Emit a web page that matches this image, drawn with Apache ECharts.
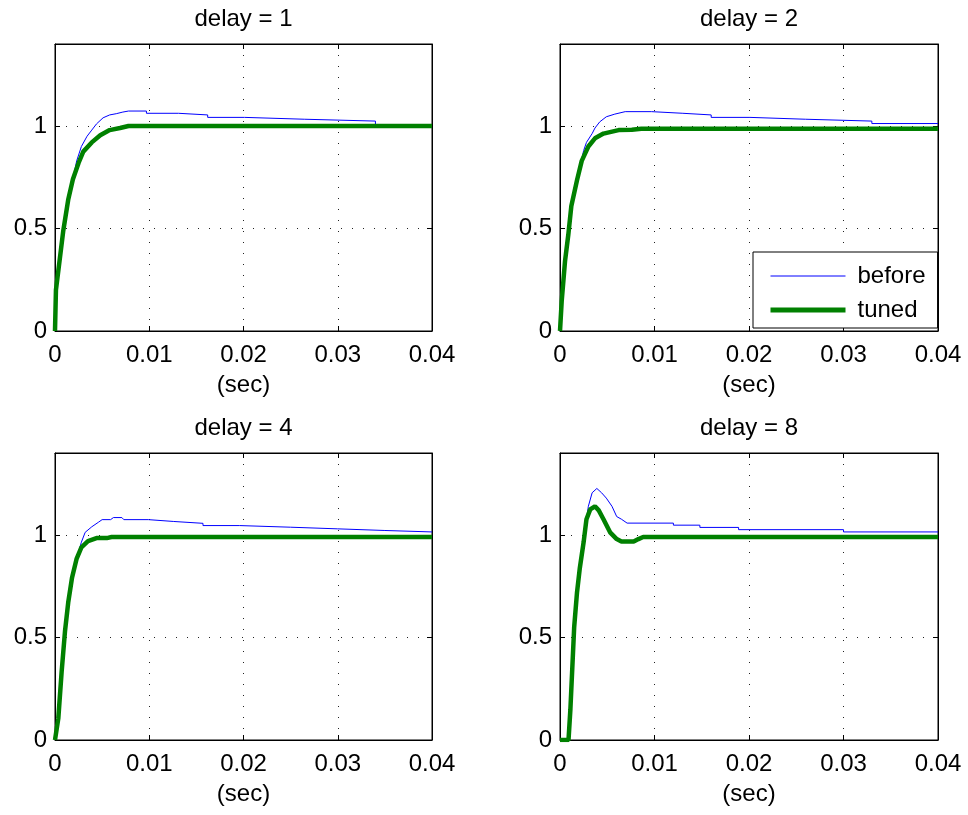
<!DOCTYPE html>
<html>
<head>
<meta charset="UTF-8">
<title>delay step responses</title>
<script src="https://cdn.jsdelivr.net/npm/echarts@6/dist/echarts.min.js"></script>
<style>
  html, body { margin: 0; padding: 0; background: #fff; }
  #main { width: 968px; height: 815px; }
</style>
</head>
<body>
<div id="main"></div>
<script>
// panel titles and tick labels
var titles = ['delay = 1', 'delay = 2', 'delay = 4', 'delay = 8'];
var xTicks = [0, 0.01, 0.02, 0.03, 0.04];
var yTicks = [0, 0.5, 1];

// [time (sec), response]
var before1 = [[0,0],[0.0001,0.2],[0.00053,0.36],[0.00088,0.49],[0.0014,0.64],[0.0019,0.74],[0.0023,0.83],
  [0.0028,0.9],[0.0034,0.95],[0.0039,0.98],[0.0044,1.01],[0.0051,1.04],[0.0058,1.054],[0.0065,1.06],
  [0.0072,1.068],[0.0078,1.073],[0.0097,1.073],[0.0097,1.062],[0.0131,1.062],[0.0131,1.054],[0.0162,1.054],
  [0.0162,1.042],[0.0201,1.042],[0.0201,1.033],[0.0265,1.033],[0.0265,1.024],[0.034,1.024],[0.034,1.0],[0.04,1.0]];
var tuned1 = [[0,0],[0.0001,0.2],[0.00053,0.36],[0.00088,0.49],[0.0014,0.64],[0.0019,0.74],[0.0025,0.82],
  [0.003,0.875],[0.0039,0.92],[0.0048,0.955],[0.0058,0.98],[0.0069,0.99],[0.0078,1.0],[0.04,1.0]];

var before2 = [[0,0],[0.00018,0.146],[0.00053,0.34],[0.00088,0.47],[0.0012,0.61],[0.0018,0.735],[0.0021,0.8],
  [0.0025,0.88],[0.0028,0.92],[0.0034,0.963],[0.0037,0.99],[0.0042,1.02],[0.0049,1.045],[0.0058,1.058],
  [0.0069,1.07],[0.0097,1.07],[0.0097,1.062],[0.013,1.062],[0.013,1.054],[0.016,1.054],[0.016,1.042],
  [0.0201,1.042],[0.0201,1.033],[0.026,1.033],[0.026,1.024],[0.033,1.024],[0.033,1.012],[0.04,1.012]];
var tuned2 = [[0,0],[0.00018,0.146],[0.00053,0.34],[0.00088,0.47],[0.0012,0.61],[0.0018,0.735],[0.0023,0.83],
  [0.003,0.9],[0.0037,0.94],[0.0046,0.963],[0.0062,0.98],[0.0076,0.982],[0.0086,0.987],[0.04,0.987]];

var before3 = [[0,0],[0.00035,0.105],[0.0007,0.33],[0.00106,0.53],[0.0014,0.67],[0.0018,0.79],[0.0023,0.885],
  [0.0028,0.965],[0.0032,1.013],[0.0039,1.04],[0.0046,1.062],[0.005,1.075],[0.0059,1.075],[0.0062,1.085],
  [0.0071,1.085],[0.0073,1.075],[0.0099,1.075],[0.0099,1.066],[0.0126,1.066],[0.0126,1.057],[0.0157,1.057],
  [0.0157,1.046],[0.0196,1.046],[0.0196,1.038],[0.025,1.038],[0.025,1.03],[0.03,1.03],[0.03,1.022],
  [0.035,1.022],[0.035,1.015],[0.04,1.015]];
var tuned3 = [[0,0],[0.00035,0.105],[0.0007,0.33],[0.00106,0.53],[0.0014,0.67],[0.0018,0.79],[0.0023,0.885],
  [0.0028,0.94],[0.0035,0.97],[0.0044,0.985],[0.0055,0.985],[0.006,0.99],[0.04,0.99]];

var before4 = [[0,0],[0.0009,0],[0.0011,0.15],[0.0013,0.35],[0.0015,0.55],[0.0018,0.72],[0.0021,0.84],
  [0.0025,0.965],[0.0028,1.077],[0.003,1.14],[0.0034,1.206],[0.0039,1.227],[0.0044,1.206],[0.0049,1.18],
  [0.0055,1.14],[0.006,1.09],[0.0065,1.077],[0.0071,1.058],[0.012,1.058],[0.012,1.048],[0.0148,1.048],
  [0.0148,1.037],[0.0189,1.037],[0.0189,1.026],[0.03,1.026],[0.03,1.015],[0.04,1.015]];
var tuned4 = [[0,0],[0.0009,0],[0.0011,0.15],[0.0013,0.35],[0.0015,0.55],[0.0018,0.72],[0.0021,0.84],
  [0.0025,0.965],[0.0028,1.077],[0.0032,1.125],[0.0037,1.14],[0.0041,1.12],[0.0046,1.077],[0.0053,1.013],
  [0.006,0.98],[0.0065,0.968],[0.0078,0.968],[0.0083,0.98],[0.0088,0.99],[0.04,0.99]];

var beforeSets = [before1, before2, before3, before4];
var tunedSets = [tuned1, tuned2, tuned3, tuned4];

var font = 'Liberation Sans, Arial, Helvetica, sans-serif';
var boxes = [
  { left: 55, top: 44, width: 377, height: 287 },
  { left: 560, top: 44, width: 378, height: 287 },
  { left: 55, top: 453, width: 377, height: 287 },
  { left: 560, top: 453, width: 378, height: 287 }
];
var dotted = { color: '#222', type: [1, 10], width: 1 };

function fmt(list) {
  return function (v) {
    var r = +v.toFixed(2);
    return list.indexOf(r) >= 0 ? String(r) : '';
  };
}

var grids = [], xAxes = [], yAxes = [], series = [];
boxes.forEach(function (b, i) {
  grids.push({ left: b.left, top: b.top, width: b.width, height: b.height,
    show: true, borderColor: '#000', borderWidth: 1, backgroundColor: '#fff' });
  // bottom axis with labels and (sec)
  xAxes.push({
    type: 'value', gridIndex: i, min: 0, max: 0.04, interval: 0.01,
    name: '(sec)', nameLocation: 'middle', nameGap: 42,
    nameTextStyle: { fontFamily: font, fontSize: 24, color: '#000' },
    axisLine: { onZero: false, lineStyle: { color: '#000' } },
    axisTick: { inside: true, length: 5, lineStyle: { color: '#000' } },
    axisLabel: { fontFamily: font, fontSize: 24, color: '#000', margin: 12, formatter: fmt(xTicks) },
    splitLine: { show: true, lineStyle: dotted }
  });
  // top axis: ticks + panel title
  xAxes.push({
    type: 'value', gridIndex: i, position: 'top', min: 0, max: 0.04, interval: 0.01,
    name: titles[i], nameLocation: 'middle', nameGap: 13,
    nameTextStyle: { fontFamily: font, fontSize: 24, color: '#000' },
    axisLine: { onZero: false, lineStyle: { color: '#000' } },
    axisTick: { inside: true, length: 5, lineStyle: { color: '#000' } },
    axisLabel: { show: false }, splitLine: { show: false }
  });
  yAxes.push({
    type: 'value', gridIndex: i, min: 0, max: 1.4, interval: 0.5,
    axisLine: { onZero: false, lineStyle: { color: '#000' } },
    axisTick: { inside: true, length: 5, lineStyle: { color: '#000' } },
    axisLabel: { fontFamily: font, fontSize: 24, color: '#000', margin: 8, showMaxLabel: false,
      formatter: fmt(yTicks) },
    splitLine: { show: true, lineStyle: dotted }
  });
  yAxes.push({
    type: 'value', gridIndex: i, position: 'right', min: 0, max: 1.4, interval: 0.5,
    axisLine: { onZero: false, lineStyle: { color: '#000' } },
    axisTick: { inside: true, length: 5, lineStyle: { color: '#000' } },
    axisLabel: { show: false }, splitLine: { show: false }
  });
  series.push({
    name: 'before', type: 'line', xAxisIndex: i * 2, yAxisIndex: i * 2,
    data: beforeSets[i], showSymbol: false, symbol: 'none', animation: false,
    lineStyle: { color: '#0000ff', width: 1 }, itemStyle: { color: '#0000ff' }, z: 2
  });
  series.push({
    name: 'tuned', type: 'line', xAxisIndex: i * 2, yAxisIndex: i * 2,
    data: tunedSets[i], showSymbol: false, symbol: 'none', animation: false,
    lineStyle: { color: '#008000', width: 4.5 }, itemStyle: { color: '#008000' }, z: 3
  });
});

var chart = echarts.init(document.getElementById('main'));
chart.setOption({
  backgroundColor: '#fff',
  animation: false,
  legend: {
    data: [
      { name: 'before', lineStyle: { width: 1 } },
      { name: 'tuned', lineStyle: { width: 5 } }
    ],
    orient: 'vertical', left: 753, top: 252,
    padding: [12, 12, 6, 15], itemGap: 10, itemWidth: 75, itemHeight: 14,
    itemStyle: { opacity: 0 },
    backgroundColor: '#fff', borderColor: '#000', borderWidth: 1, borderRadius: 0,
    textStyle: { fontFamily: font, fontSize: 24, color: '#000', padding: [0, 0, 0, 7] }
  },
  grid: grids,
  xAxis: xAxes,
  yAxis: yAxes,
  series: series
});
</script>
</body>
</html>
